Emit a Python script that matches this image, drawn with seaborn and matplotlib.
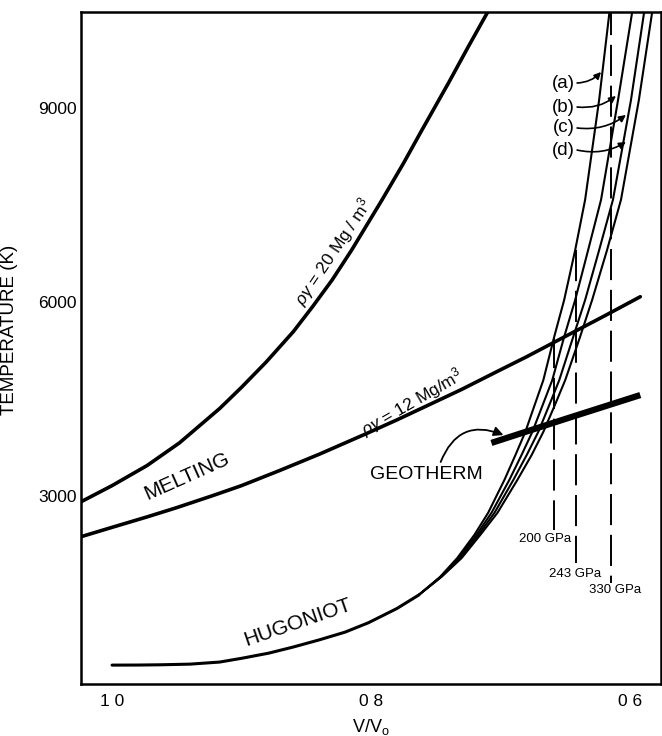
import matplotlib
matplotlib.use("Agg")
import matplotlib.pyplot as plt
import seaborn as sns

# ---------------- data ----------------
# Hugoniot, common low-temperature part
hug_x = [1.000, 0.980, 0.963, 0.940, 0.917, 0.900, 0.879, 0.860, 0.840, 0.820, 0.802, 0.780, 0.763]
hug_t = [385, 386, 390, 400, 432, 490, 570, 665, 775, 895, 1040, 1260, 1470]

# four high-temperature Hugoniot branches (a)-(d), shared temperatures
branch_t = [1470, 1750, 2040, 2400, 2740, 3250, 3630, 3990, 4400, 4790, 5460, 6030, 6800,
            7580, 9120, 10550]
branch_a = [0.7631, 0.7466, 0.7334, 0.7201, 0.7095, 0.6969, 0.6885, 0.6808, 0.6737, 0.6669,
            0.6585, 0.6508, 0.6423, 0.6346, 0.6238, 0.6154]
branch_b = [0.7631, 0.7462, 0.7322, 0.7185, 0.7069, 0.6931, 0.6838, 0.6754, 0.6675, 0.6600,
            0.6508, 0.6423, 0.6323, 0.6223, 0.6092, 0.5977]
branch_c = [0.7631, 0.7458, 0.7310, 0.7170, 0.7046, 0.6900, 0.6798, 0.6708, 0.6624, 0.6546,
            0.6438, 0.6346, 0.6238, 0.6131, 0.5992, 0.5885]
branch_d = [0.7631, 0.7455, 0.7300, 0.7155, 0.7023, 0.6869, 0.6760, 0.6669, 0.6581, 0.6500,
            0.6385, 0.6292, 0.6177, 0.6069, 0.5931, 0.5823]
branch_names = ["(a)", "(b)", "(c)", "(d)"]

# melting curves
melt20_x = [1.024, 1.000, 0.973, 0.948, 0.917, 0.900, 0.881, 0.860, 0.845, 0.830, 0.815,
            0.792, 0.775, 0.761, 0.740, 0.725, 0.706]
melt20_t = [2910, 3160, 3470, 3820, 4350, 4680, 5070, 5540, 5930, 6340, 6800,
            7560, 8140, 8645, 9390, 9940, 10620]
melt12_x = [1.024, 1.000, 0.973, 0.950, 0.922, 0.900, 0.871, 0.840, 0.804, 0.780, 0.753,
            0.730, 0.702, 0.680, 0.653, 0.620, 0.592]
melt12_t = [2370, 2515, 2676, 2820, 3007, 3160, 3390, 3645, 3960, 4176, 4430,
            4647, 4930, 5150, 5434, 5780, 6080]

# geotherm
geo_x = [0.707, 0.650, 0.592]
geo_t = [3820, 4190, 4560]

# pressure markers (V/V0 position, top T, bottom T)
press_labels = ["200 GPa", "243 GPa", "330 GPa"]
press_x = [0.6585, 0.6415, 0.6146]
press_top = [5460, 6800, 10600]
press_bot = [2470, 1960, 1650]

xticks = [1.0, 0.8, 0.6]
xtick_labels = ["1 0", "0 8", "0 6"]
yticks = [3000, 6000, 9000]
ytick_labels = ["3000", "6000", "9000"]

# ---------------- plot ----------------
sns.set_theme(style="white")
plt.rcParams["font.family"] = ["Liberation Sans", "DejaVu Sans"]
plt.rcParams["mathtext.fontset"] = "custom"
plt.rcParams["mathtext.rm"] = "Liberation Sans"
plt.rcParams["mathtext.it"] = "Liberation Sans:italic"
for key in ["text.color", "axes.labelcolor", "xtick.color", "ytick.color", "axes.edgecolor"]:
    plt.rcParams[key] = "black"

fig = plt.figure(figsize=(6.62, 7.36), dpi=100)
ax = fig.add_axes([81 / 662, 52 / 736, 580 / 662, 672 / 736])

K = "black"
sns.lineplot(x=hug_x, y=hug_t, ax=ax, sort=False, estimator=None, color=K, lw=2.2)
for bx in [branch_a, branch_b, branch_c, branch_d]:
    sns.lineplot(x=bx, y=branch_t, ax=ax, sort=False, estimator=None, color=K, lw=1.5)
sns.lineplot(x=melt20_x, y=melt20_t, ax=ax, sort=False, estimator=None, color=K, lw=2.6)
sns.lineplot(x=melt12_x, y=melt12_t, ax=ax, sort=False, estimator=None, color=K, lw=2.6)
sns.lineplot(x=geo_x, y=geo_t, ax=ax, sort=False, estimator=None, color=K, lw=4.5,
             solid_capstyle="butt")

for px, pt, pb in zip(press_x, press_top, press_bot):
    ax.plot([px, px], [pt, pb], color=K, lw=1.4, dashes=(16, 5))

ax.set_xlim(1.024, 0.576)
ax.set_ylim(93, 10482)

# pressure labels
ax.text(0.6654, 2334, press_labels[0], fontsize=9.5, ha="center", va="center")
ax.text(0.6423, 1793, press_labels[1], fontsize=9.5, ha="center", va="center")
ax.text(0.6115, 1546, press_labels[2], fontsize=9.5, ha="center", va="center")

# curve labels
ax.text(0.9423, 3300, "MELTING", fontsize=15, rotation=24, ha="center", va="center",
        rotation_mode="anchor")
ax.text(0.857, 1040, "HUGONIOT", fontsize=15, rotation=19, ha="center", va="center",
        rotation_mode="anchor")
ax.text(0.757, 3339, "GEOTHERM", fontsize=14, ha="center", va="center")
ax.text(0.829, 6771, r"$\rho\gamma$ = 20 Mg / m$^3$", fontsize=12.5, rotation=56,
        ha="center", va="center", rotation_mode="anchor")
ax.text(0.7685, 4452, r"$\rho\gamma$ = 12 Mg/m$^3$", fontsize=12.5, rotation=30,
        ha="center", va="center", rotation_mode="anchor")

ax.annotate("", xy=(0.6977, 3942), xytext=(0.7462, 3525),
            arrowprops=dict(arrowstyle="-|>", color=K, lw=1.3, mutation_scale=14,
                            connectionstyle="arc3,rad=-0.5", shrinkA=0, shrinkB=0))

# branch labels with arrows
lab_t = [9384, 9013, 8689, 8348]
tip_x = [0.6223, 0.6108, 0.6031, 0.6031]
tip_t = [9554, 9183, 8890, 8472]
for name, lt, tx, tt in zip(branch_names, lab_t, tip_x, tip_t):
    ax.text(0.6423, lt, name, fontsize=13.5, ha="right", va="center")
    ax.annotate("", xy=(tx, tt), xytext=(0.6408, lt),
                arrowprops=dict(arrowstyle="-|>", color=K, lw=1.2, mutation_scale=10,
                                connectionstyle="arc3,rad=0.2", shrinkA=0, shrinkB=0))

# axes styling
ax.set_xticks(xticks)
ax.set_xticklabels(xtick_labels)
ax.set_yticks(yticks)
ax.set_yticklabels(ytick_labels)
ax.tick_params(axis="both", direction="in", length=8, width=1.5, color=K,
               labelsize=12.5, labelcolor=K)
ax.tick_params(axis="x", pad=7)
ax.tick_params(axis="y", pad=3)
for s in ax.spines.values():
    s.set_visible(True)
    s.set_color(K)
    s.set_linewidth(1.8)
ax.grid(False)
ax.set_xlabel(r"V/V$_\mathregular{o}$", fontsize=13, color=K, labelpad=6)
ax.set_ylabel("TEMPERATURE (K)", fontsize=13.5, color=K)
ax.yaxis.set_label_coords(-0.109, 0.527)

fig.savefig("out.png", dpi=100)
